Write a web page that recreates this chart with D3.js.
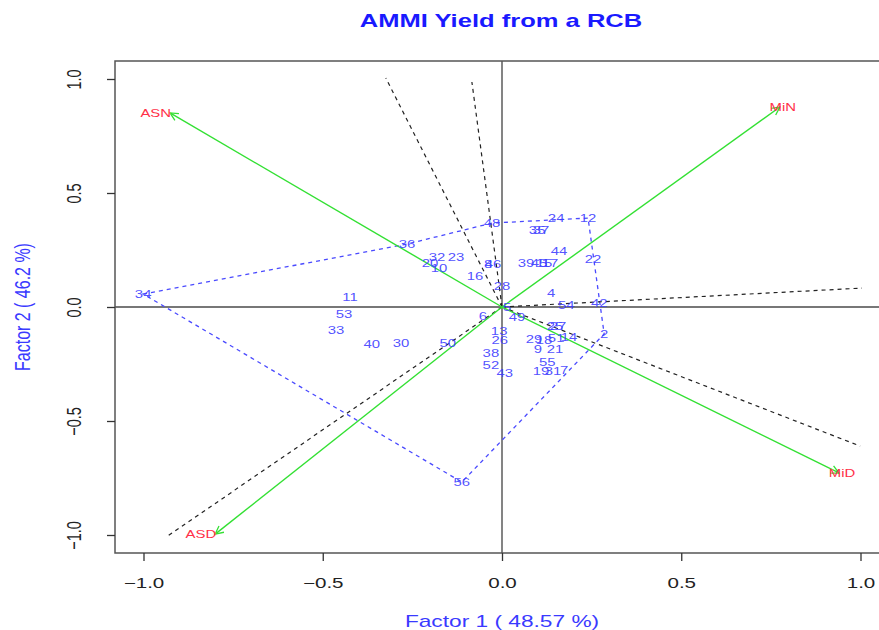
<html>
  <head>
    <meta charset="utf-8">
    <script src="https://cdn.jsdelivr.net/npm/d3@7"></script>
    <style>
      body { margin: 0; background: #fff; }
      text { font-family: "Liberation Sans", Arial, Helvetica, sans-serif; }
    </style>
  </head>
  <body>
    <svg id="chart" width="879" height="630"></svg>
    <script>
      // genotype scores (factor 1, factor 2)
      var genoNames = ["2","4","5","6","7","8","9","10","11","12","13","14","15","16","17","18","19","20",
                       "21","22","23","24","25","26","27","28","29","30","31","32","33","34","35","36","37",
                       "38","39","40","42","43","44","45","46","48","49","50","51","52","53","54","55","56"];
      var genoF1 = [0.285,0.137,0.014,-0.053,0.173,-0.039,0.100,-0.176,-0.424,0.240,-0.008,0.187,0.117,-0.075,0.134,0.117,0.109,-0.201,
                    0.148,0.254,-0.128,0.151,0.148,-0.006,0.156,0.000,0.089,-0.282,0.142,-0.181,-0.463,-1.001,0.098,-0.265,0.109,
                    -0.031,0.067,-0.363,0.271,0.008,0.159,0.103,-0.025,-0.028,0.042,-0.151,0.151,-0.031,-0.441,0.179,0.126,-0.112];
      var genoF2 = [-0.118,0.061,0.000,-0.039,-0.276,0.189,-0.184,0.171,0.044,0.390,-0.105,-0.132,0.193,0.136,0.193,-0.145,-0.281,0.193,
                    -0.184,0.211,0.219,0.390,-0.083,-0.145,-0.083,0.092,-0.140,-0.158,-0.281,0.219,-0.101,0.057,0.338,0.276,0.338,
                    -0.202,0.193,-0.162,0.018,-0.289,0.246,0.193,0.189,0.368,-0.044,-0.158,-0.136,-0.254,-0.031,0.009,-0.241,-0.768];

      // environment scores
      var envNames = ["ASN","ASD","MiN","MiD"];
      var envF1 = [-0.926,-0.800,0.775,0.940];
      var envF2 = [0.851,-0.996,0.877,-0.728];

      // convex hull of genotypes (which-won-where polygon)
      var hullOrder = ["34","36","48","12","2","56"];

      // rays perpendicular to hull sides
      var rayF1 = [-0.324,-0.084,1.004,0.999,-0.932];
      var rayF2 = [1.004,0.987,0.083,-0.610,-1.004];

      var xTicks = [-1,-0.5,0,0.5,1];
      var yTicks = [-1,-0.5,0,0.5,1];

      var SX = 1.42;   // the picture is stretched horizontally
      var box = {left: 115, right: 886, top: 61, bottom: 553};

      var svg = d3.select("#chart");
      var x = d3.scaleLinear().domain([-1, 1]).range([143.5, 860.5]);
      var y = d3.scaleLinear().domain([-1, 1]).range([535, 79]);

      var genos = genoNames.map(function(n, i) { return {name: n, f1: genoF1[i], f2: genoF2[i]}; });
      var envs = envNames.map(function(n, i) { return {name: n, f1: envF1[i], f2: envF2[i]}; });
      var byName = {};
      genos.forEach(function(g) { byName[g.name] = g; });

      svg.append("defs").append("clipPath").attr("id", "clip")
        .append("rect")
        .attr("x", box.left).attr("y", box.top)
        .attr("width", box.right - box.left).attr("height", box.bottom - box.top);

      var plot = svg.append("g").attr("clip-path", "url(#clip)");

      // zero lines
      plot.append("line")
        .attr("x1", box.left).attr("x2", box.right)
        .attr("y1", y(0)).attr("y2", y(0))
        .attr("stroke", "#777").attr("stroke-width", 1.8);
      plot.append("line")
        .attr("x1", x(0)).attr("x2", x(0))
        .attr("y1", box.top).attr("y2", box.bottom)
        .attr("stroke", "#777").attr("stroke-width", 1.8);

      // hull
      var hullPts = hullOrder.map(function(n) { return [x(byName[n].f1), y(byName[n].f2)]; });
      plot.append("path")
        .attr("d", "M" + hullPts.join("L") + "Z")
        .attr("fill", "none")
        .attr("stroke", "#4a4aff")
        .attr("stroke-width", 1.3)
        .attr("stroke-dasharray", "4,4");

      // rays
      plot.selectAll(".ray")
        .data(d3.range(rayF1.length))
        .join("line")
        .attr("class", "ray")
        .attr("x1", x(0)).attr("y1", y(0))
        .attr("x2", function(i) { return x(rayF1[i]); })
        .attr("y2", function(i) { return y(rayF2[i]); })
        .attr("stroke", "#222")
        .attr("stroke-width", 1.2)
        .attr("stroke-dasharray", "4,4");

      // arrows to environments
      svg.select("defs").append("marker")
        .attr("id", "head")
        .attr("viewBox", "-10 -6 12 12")
        .attr("refX", 0).attr("refY", 0)
        .attr("markerWidth", 12).attr("markerHeight", 12)
        .attr("markerUnits", "userSpaceOnUse")
        .attr("orient", "auto")
        .append("path")
        .attr("d", "M-8,-4 L0,0 L-8,4")
        .attr("fill", "none")
        .attr("stroke", "#33e033")
        .attr("stroke-width", 1.3);

      plot.selectAll(".env")
        .data(envs)
        .join("line")
        .attr("class", "env")
        .attr("x1", x(0)).attr("y1", y(0))
        .attr("x2", function(d) { return x(d.f1); })
        .attr("y2", function(d) { return y(d.f2); })
        .attr("stroke", "#33e033")
        .attr("stroke-width", 1.4)
        .attr("marker-end", "url(#head)");

      // genotype labels
      plot.selectAll(".geno")
        .data(genos)
        .join("text")
        .attr("class", "geno")
        .attr("transform", function(d) { return "translate(" + x(d.f1) + "," + y(d.f2) + ") scale(" + SX + ",1)"; })
        .attr("text-anchor", "middle")
        .attr("dominant-baseline", "central")
        .attr("font-size", 10.5)
        .attr("fill", "#3d3dff")
        .attr("fill-opacity", 0.9)
        .text(function(d) { return d.name; });

      // environment labels
      plot.selectAll(".envlab")
        .data(envs)
        .join("text")
        .attr("class", "envlab")
        .attr("transform", function(d) {
          var dx = d.f1 < 0 ? 1 : 3;
          return "translate(" + (x(d.f1) + dx) + "," + y(d.f2) + ") scale(" + SX + ",1)";
        })
        .attr("text-anchor", function(d) { return d.f1 < 0 ? "end" : "middle"; })
        .attr("dominant-baseline", "central")
        .attr("font-size", 10.5)
        .attr("fill", "#ff3048")
        .text(function(d) { return d.name; });

      // box
      svg.append("rect")
        .attr("x", box.left).attr("y", box.top)
        .attr("width", box.right - box.left).attr("height", box.bottom - box.top)
        .attr("fill", "none")
        .attr("stroke", "#555")
        .attr("stroke-width", 1.5);

      // axes
      var fmt = d3.format(".1f");
      var xAxis = svg.append("g")
        .attr("transform", "translate(0," + box.bottom + ")")
        .call(d3.axisBottom(x).tickValues(xTicks).tickFormat(fmt).tickSize(8).tickSizeOuter(0));
      xAxis.select(".domain").remove();
      xAxis.selectAll(".tick line").attr("stroke", "#333").attr("stroke-width", 1.3);
      xAxis.selectAll(".tick text")
        .attr("y", null).attr("dy", null)
        .attr("transform", "translate(0,30) scale(" + SX + ",1)")
        .attr("dominant-baseline", "central")
        .attr("font-size", 14.5)
        .attr("fill", "#222");

      var yAxis = svg.append("g")
        .attr("transform", "translate(" + box.left + ",0)")
        .call(d3.axisLeft(y).tickValues(yTicks).tickFormat(fmt).tickSize(8).tickSizeOuter(0));
      yAxis.select(".domain").remove();
      yAxis.selectAll(".tick line").attr("stroke", "#333").attr("stroke-width", 1.3);
      yAxis.selectAll(".tick text")
        .attr("x", null).attr("dy", null)
        .attr("transform", "translate(-41,0) scale(" + SX + ",1) rotate(-90)")
        .attr("text-anchor", "middle")
        .attr("dominant-baseline", "central")
        .attr("font-size", 14.5)
        .attr("fill", "#222");
      svg.selectAll(".tick text").attr("font-family", null);

      // titles
      svg.append("text")
        .attr("transform", "translate(501,21) scale(" + SX + ",1)")
        .attr("text-anchor", "middle")
        .attr("dominant-baseline", "central")
        .attr("font-size", 18)
        .attr("font-weight", "bold")
        .attr("fill", "#1a1aff")
        .text("AMMI Yield from a RCB");

      svg.append("text")
        .attr("transform", "translate(502,621) scale(" + SX + ",1)")
        .attr("text-anchor", "middle")
        .attr("dominant-baseline", "central")
        .attr("font-size", 16)
        .attr("fill", "#3a3aff")
        .text("Factor 1 ( 48.57 %)");

      svg.append("text")
        .attr("transform", "translate(22,307) scale(" + SX + ",1) rotate(-90)")
        .attr("text-anchor", "middle")
        .attr("dominant-baseline", "central")
        .attr("font-size", 16)
        .attr("fill", "#3a3aff")
        .text("Factor 2 ( 46.2 %)");
    </script>
  </body>
</html>
